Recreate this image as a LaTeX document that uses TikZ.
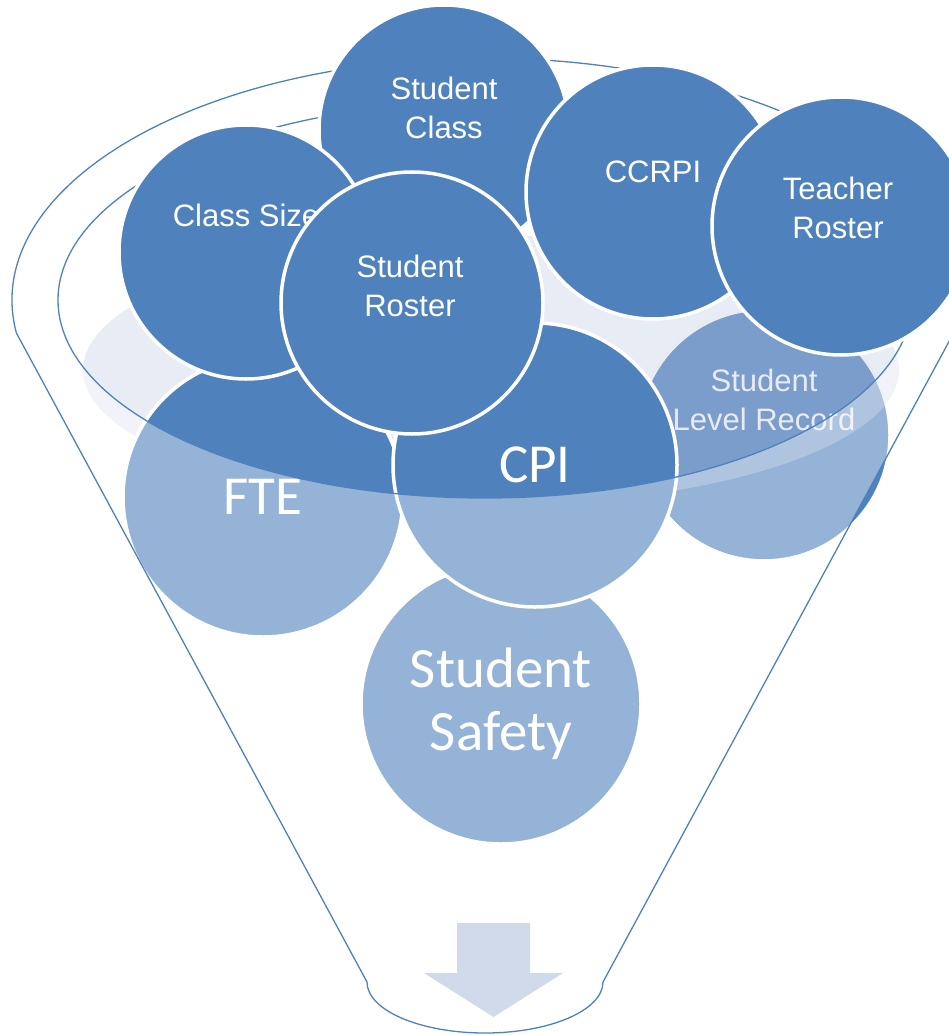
\documentclass[tikz,border=0pt]{standalone}
\usepackage{fontspec}
\setmainfont{Liberation Sans}
\newfontfamily\calibri{Carlito}
\usepackage{tikz}
\definecolor{cblue}{RGB}{79, 129, 189}
\definecolor{cmist}{RGB}{195, 205, 226}
\definecolor{carrow}{RGB}{208, 218, 234}

\begin{document}
\begin{tikzpicture}[
  disc/.style={circle, minimum size=#1, inner sep=0pt, fill=cblue, draw=white, line width=3.5pt},
  disctext/.style={text=white, align=center, inner sep=0pt, font=\fontsize{31}{39}\selectfont},
  bigtext/.style={text=white, align=center, font=\calibri\fontsize{#1}{63}\selectfont},
  rim/.style={draw=cblue, line width=1.3pt}]
\useasboundingbox (0pt, 0pt) rectangle (949pt, -1035pt);

% balls under the liquid
\node (slr) [disc=252pt] at (764.0pt, -435.0pt) {};
\node (slrT) [disctext] at ([yshift=35.5pt]slr.center) {Student\\Level Record};
\fill [cmist, fill opacity=0.38] (491pt, -370pt) ellipse [x radius=408pt, y radius=135pt];
\node (safety) [disc=280pt, bigtext=57] at (501.0pt, -704.0pt) {Student\\Safety};
\node (fte) [disc=280pt, bigtext=55] at (263.0pt, -497.0pt) {FTE};
\node (cpi) [disc=284pt, bigtext=55] at (535.0pt, -465.0pt) {CPI};

% funnel body and rims
\fill [white, fill opacity=0.4, even odd rule] (16.4pt, -333pt)
  arc [start angle=187.8, end angle=-7.8, x radius=473pt, y radius=242pt]
  -- (603pt, -982pt) arc [start angle=0, end angle=-180, x radius=118pt, y radius=51pt]
  -- cycle (485pt, -300pt) ellipse [x radius=427pt, y radius=198pt];
\draw [rim] (16.4pt, -333pt)
  arc [start angle=187.8, end angle=-7.8, x radius=473pt, y radius=242pt]
  -- (603pt, -982pt) arc [start angle=0, end angle=-180, x radius=118pt, y radius=51pt]
  -- cycle;
\draw [rim] (485pt, -300pt) ellipse [x radius=427pt, y radius=198pt];
\fill [carrow] (457pt, -923pt) -- (530pt, -923pt) -- (530pt, -973pt) -- (563pt, -973pt)
  -- (493.5pt, -1017pt) -- (424pt, -973pt) -- (457pt, -973pt) -- cycle;

% balls on top
\node (cls) [disc=250pt] at (444.0pt, -130.0pt) {};
\node (clsT) [disctext] at ([yshift=22.5pt]cls.center) {Student\\Class};
\node (size) [disc=254pt] at (246.0pt, -252.0pt) {};
\node (sizeT) [disctext] at ([yshift=37pt]size.center) {Class Size};
\node (ccrpi) [disc=254pt] at (653.0pt, -192.0pt) {};
\node (ccrpiT) [disctext] at ([yshift=20.5pt]ccrpi.center) {CCRPI};
\node (teach) [disc=258pt] at (841.0pt, -226.0pt) {};
\node (teachT) [disctext] at ([yshift=18.5pt,xshift=-3pt]teach.center) {Teacher\\Roster};
\node (roster) [disc=262pt] at (412.0pt, -303.0pt) {};
\node (rosterT) [disctext] at ([yshift=17pt,xshift=-2pt]roster.center) {Student\\Roster};
\end{tikzpicture}
\end{document}
